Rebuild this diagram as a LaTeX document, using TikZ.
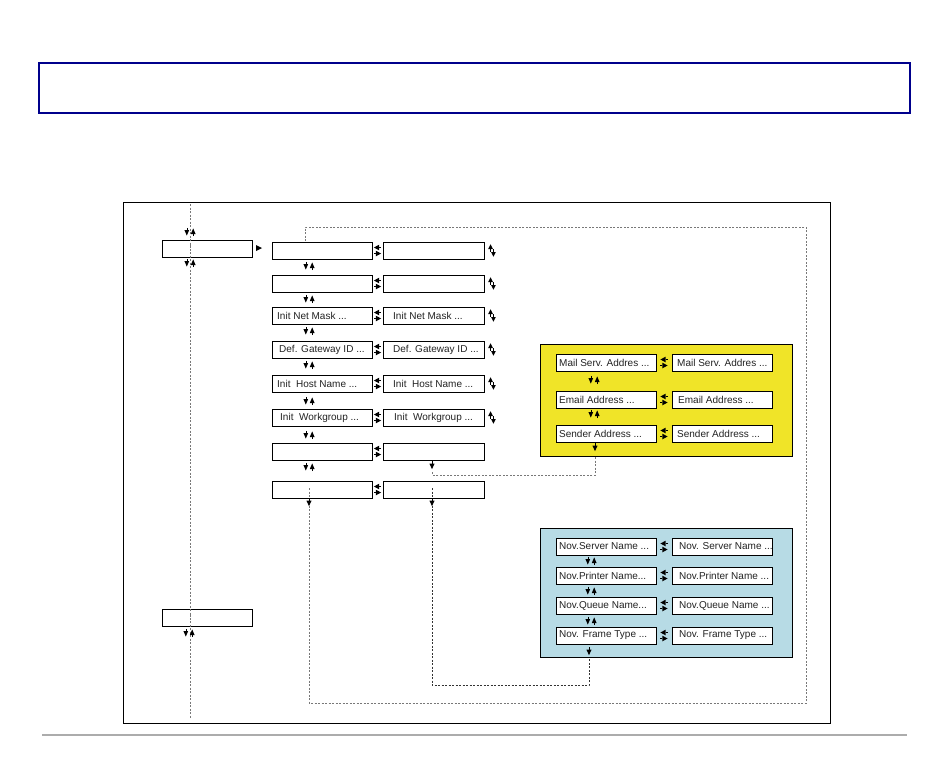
\documentclass[tikz,border=0pt]{standalone}
\usepackage{fontspec}
\setmainfont{Liberation Sans}
\definecolor{navyb}{RGB}{0,0,140}
\definecolor{yel}{RGB}{240,228,40}
\definecolor{lblue}{RGB}{183,219,229}
\definecolor{dgray}{RGB}{120,120,120}
\definecolor{txtc}{RGB}{35,35,35}
\begin{document}
\begin{tikzpicture}[x=1pt,y=-1pt,
  box/.style={draw=black, line width=0.9pt, fill=white, minimum height=17pt, anchor=north west, inner sep=0pt, outer sep=0pt},
  txt/.style={anchor=west, inner sep=0pt, text=txtc, font=\fontsize{10}{12}\selectfont},
  dl/.style={draw=dgray, line width=0.7pt, dash pattern=on 2pt off 1.5pt},
  dk/.style={draw=black!80, line width=0.7pt, dash pattern=on 2pt off 1.5pt},
  dn/.pic={\fill (-2.6,-2.5) -- (2.6,-2.5) -- (0,3.2) -- cycle; \draw[line width=0.7pt] (0,-5)--(0,-2.5);},
  updn/.pic={\fill (-5.6,-2) -- (-0.8,-2) -- (-3.2,3.6) -- cycle; \draw[line width=0.6pt] (-3.2,-4.2)--(-3.2,-2);
             \fill (0.8,2) -- (5.6,2) -- (3.2,-3.6) -- cycle; \draw[line width=0.6pt] (3.2,4.2)--(3.2,2);},
  lr/.pic={\fill (-3.6,-3) -- (1.6,-5.8) -- (1.6,-0.2) -- cycle; \draw[line width=0.6pt] (1.6,-3)--(3.6,-3);
           \fill (3.6,3) -- (-1.6,0.2) -- (-1.6,5.8) -- cycle; \draw[line width=0.6pt] (-1.6,3)--(-3.6,3);},
  ud/.pic={\fill (-3.8,-1.5) -- (0.9,-1.5) -- (-1.45,-6.2) -- cycle; \draw[line width=0.6pt] (-1.45,-1.5)--(-1.45,1.2);
           \fill (-0.9,1.5) -- (3.8,1.5) -- (1.45,6.2) -- cycle; \draw[line width=0.6pt] (1.45,1.5)--(1.45,-1.2);},
  rt/.pic={\fill (-3,-3) -- (-3,3) -- (3,0) -- cycle;}
]
\useasboundingbox (0,0) rectangle (950,756);
\fill[white] (0,0) rectangle (950,756);

% title and frame
\node[draw=navyb, line width=2.6pt, minimum width=871pt, minimum height=50pt, anchor=north west, inner sep=0pt] (title) at (37.5,61.5) {};
\node[draw=black, line width=1.1pt, minimum width=707pt, minimum height=521pt, anchor=north west, inner sep=0pt] (frame) at (122.5,201.5) {};
\coordinate (rl0) at (42,735);
\coordinate (rl1) at (907,735);
\draw[gray!65, line width=2pt] (rl0) -- (rl1);

% left column
\node[box, minimum width=90pt] (L1) at (162,240) {};
\node[box, minimum width=90pt] (L2) at (162,609) {};
\coordinate (ltop) at (190,204);
\coordinate (lbot) at (190,718);
\draw[dl] (ltop) -- ([yshift=-8pt]L1.north -| ltop);
\draw[dl] ([yshift=12pt]L1.south -| ltop) -- ([yshift=-8pt]L2.north -| ltop);
\draw[dl] ([yshift=12pt]L2.south -| ltop) -- (lbot);
\pic at (190,232) {updn};
\pic at (190,263) {updn};
\pic at (189,633) {updn};
\pic at (259,248) {rt};

% middle columns
\foreach \i/\y in {1/242,2/275,3/307,4/341,5/375,6/409,7/443,8/481}{
  \node[box, minimum width=100pt] (a\i) at (272,\y) {};
  \node[box, minimum width=101pt] (b\i) at (383,\y) {};
  \pic at (377.5,\y+8.5) {lr};
}
\foreach \y in {1,...,6}{ \pic at ([xshift=8pt]b\y.east) {ud}; }
\foreach \y in {266,299,331,365,401,435,467}{ \pic at (309,\y) {updn}; }

\node[txt] (ta3) at ([xshift=5pt]a3.west) {Init Net Mask ...};
\node[txt] (tb3) at ([xshift=10pt]b3.west) {Init Net Mask ...};
\node[txt] (ta4) at ([xshift=7pt]a4.west) {Def. Gateway ID ...};
\node[txt] (tb4) at ([xshift=10pt]b4.west) {Def. Gateway ID ...};
\node[txt] (ta5) at ([xshift=5pt]a5.west) {Init\ \ Host Name ...};
\node[txt] (tb5) at ([xshift=10pt]b5.west) {Init\ \ Host Name ...};
\node[txt] (ta6) at ([xshift=8pt]a6.west) {Init\ \ Workgroup ...};
\node[txt] (tb6) at ([xshift=11pt]b6.west) {Init\ \ Workgroup ...};

% yellow group
\node[draw=black, line width=1pt, fill=yel, minimum width=252pt, minimum height=112pt, anchor=north west, inner sep=0pt] (ygrp) at (540,344) {};
\foreach \i/\y in {1/354,2/391,3/425}{
  \node[box, minimum width=100pt] (y\i) at (556,\y) {};
  \node[box, minimum width=100pt] (z\i) at (672,\y) {};
  \pic at (664,\y+8.5) {lr};
}
\node[txt] (ty1) at ([xshift=3pt]y1.west) {Mail Serv. Addres ...};
\node[txt] (tz1) at ([xshift=5pt]z1.west) {Mail Serv. Addres ...};
\node[txt] (ty2) at ([xshift=3pt]y2.west) {Email Address ...};
\node[txt] (tz2) at ([xshift=6pt]z2.west) {Email Address ...};
\node[txt] (ty3) at ([xshift=3pt]y3.west) {Sender Address ...};
\node[txt] (tz3) at ([xshift=5pt]z3.west) {Sender Address ...};
\pic at (594,380) {updn};
\pic at (594,414) {updn};

% blue group
\node[draw=black, line width=1pt, fill=lblue, minimum width=252pt, minimum height=129pt, anchor=north west, inner sep=0pt] (bgrp) at (540,528) {};
\foreach \i/\y in {1/538,2/567,3/597,4/627}{
  \node[box, minimum width=100pt] (n\i) at (556,\y) {};
  \node[box, minimum width=100pt] (m\i) at (672,\y) {};
  \pic at (664,\y+8.5) {lr};
}
\node[txt] (tn1) at ([xshift=3pt]n1.west) {Nov.Server Name ...};
\node[txt] (tm1) at ([xshift=7pt]m1.west) {Nov. Server Name ...};
\node[txt] (tn2) at ([xshift=3pt]n2.west) {Nov.Printer Name...};
\node[txt] (tm2) at ([xshift=7pt]m2.west) {Nov.Printer Name ...};
\node[txt] (tn3) at ([xshift=3pt]n3.west) {Nov.Queue Name...};
\node[txt] (tm3) at ([xshift=7pt]m3.west) {Nov.Queue Name ...};
\node[txt] (tn4) at ([xshift=3pt]n4.west) {Nov. Frame Type ...};
\node[txt] (tm4) at ([xshift=7pt]m4.west) {Nov. Frame Type ...};
\pic at (591,561) {updn};
\pic at (591,591) {updn};
\pic at (591,621) {updn};

% dashed connectors
% big loop: a8 -> back to a1
\coordinate (lp1) at (309,703);
\coordinate (lp2) at (806,227);
\coordinate (lp3) at (305,227);
\draw[dl] ([yshift=10pt]a8.south -| lp1) -- (lp1) -| (lp2) -- (lp3) -- (a1.north -| lp3);
\pic at (309,503) {dn};
% yellow -> b7/b8
\coordinate (yc1) at (595,475);
\coordinate (yc2) at (432,475);
\draw[dl] (ygrp.south -| yc1) -- (yc1) -- (yc2) -- ++(0,-4);
\pic at (595,448) {dn};
\pic at (432,466) {dn};
% b8 -> blue
\coordinate (bc1) at (432,685);
\coordinate (bc2) at (589,685);
\draw[dk] ([yshift=10pt]b8.south -| bc1) -- (bc1) -- (bc2) -- (bgrp.south -| bc2);
\pic at (432,503) {dn};
\pic at (589,652) {dn};
\end{tikzpicture}
\end{document}
